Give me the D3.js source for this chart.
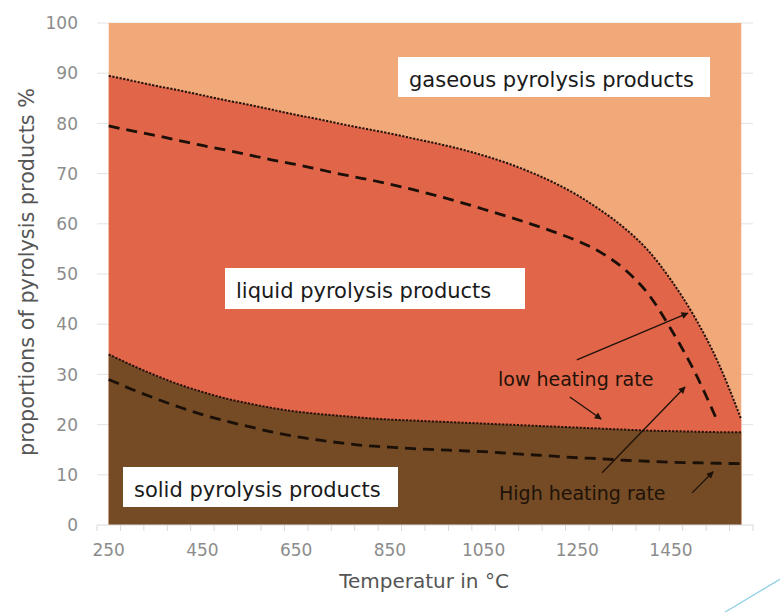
<!DOCTYPE html>
<html>
<head>
<meta charset="utf-8">
<script src="https://cdn.jsdelivr.net/npm/d3@7"></script>
<style>
  body { margin: 0; background: #fff; }
  text { font-family: "DejaVu Sans", sans-serif; }
</style>
</head>
<body>
<div id="chart"></div>
<script>
// temperature categories (°C)
var temps = [250, 300, 350, 400, 450, 500, 550, 600, 650, 700, 750, 800, 850, 900,
             950, 1000, 1050, 1100, 1150, 1200, 1250, 1300, 1350, 1400, 1450, 1500, 1550, 1600];

// low heating rate: upper edge of liquid products (solid + liquid) in %
var liquidTopLow = [89.5, 88.5, 87.5, 86.6, 85.6, 84.6, 83.7, 82.7, 81.7, 80.8, 79.8, 78.9, 78.0, 77.0,
                    76.0, 74.9, 73.6, 72.1, 70.3, 68.2, 65.7, 62.7, 59.2, 54.8, 48.8, 41.5, 32.5, 21.0];
// low heating rate: solid products in %
var solidLow = [34.0, 31.8, 29.8, 28.0, 26.5, 25.2, 24.2, 23.3, 22.6, 22.1, 21.7, 21.3, 21.0, 20.8,
                20.6, 20.4, 20.2, 20.0, 19.8, 19.6, 19.4, 19.2, 19.0, 18.8, 18.7, 18.6, 18.5, 18.5];

// high heating rate (dashed lines)
var liquidTopHigh = [79.5, 78.5, 77.6, 76.6, 75.6, 74.7, 73.7, 72.7, 71.8, 70.8, 69.8, 68.9, 67.9, 66.8,
                     65.6, 64.3, 62.9, 61.5, 60.0, 58.4, 56.6, 54.3, 51.0, 46.2, 39.0, 30.6, 20.5];
var solidHigh = [29.0, 27.0, 25.2, 23.5, 22.0, 20.7, 19.6, 18.5, 17.6, 16.9, 16.3, 15.8, 15.5, 15.2,
                 15.0, 14.8, 14.6, 14.3, 14.0, 13.7, 13.4, 13.2, 12.9, 12.7, 12.5, 12.4, 12.3, 12.2];

var xLabels = [250, 450, 650, 850, 1050, 1250, 1450];
var yTicks = [0, 10, 20, 30, 40, 50, 60, 70, 80, 90, 100];
var xMinorTicks = [225, 275, 325, 375, 425, 475, 525, 575, 625, 675, 725, 775, 825, 875, 925,
                   975, 1025, 1075, 1125, 1175, 1225, 1275, 1325, 1375, 1425, 1475, 1525, 1575, 1625];

var width = 780, height = 612;

var svg = d3.select("#chart")
    .append("svg")
    .attr("width", width)
    .attr("height", height);

var x = d3.scaleLinear().domain([225, 1625]).range([97, 753]);
var y = d3.scaleLinear().domain([0, 100]).range([525, 23]);

// gridlines
svg.append("g")
    .selectAll("line")
    .data(yTicks.slice(1))
    .enter()
    .append("line")
    .attr("x1", 97).attr("x2", 753)
    .attr("y1", function(d) { return y(d); })
    .attr("y2", function(d) { return y(d); })
    .attr("stroke", "#e3e3e3")
    .attr("stroke-width", 1);

var low = temps.map(function(t, i) { return {t: t, top: liquidTopLow[i], solid: solidLow[i]}; });

var gasArea = d3.area()
    .x(function(d) { return x(d.t); })
    .y0(y(0))
    .y1(y(100));

var liquidArea = d3.area()
    .curve(d3.curveMonotoneX)
    .x(function(d) { return x(d.t); })
    .y0(y(0))
    .y1(function(d) { return y(d.top); });

var solidArea = d3.area()
    .curve(d3.curveMonotoneX)
    .x(function(d) { return x(d.t); })
    .y0(y(0))
    .y1(function(d) { return y(d.solid); });

svg.append("path").datum(low).attr("d", gasArea).attr("fill", "#f0a574").attr("fill-opacity", 0.96);
svg.append("path").datum(low).attr("d", liquidArea).attr("fill", "#e06347").attr("fill-opacity", 0.97);
svg.append("path").datum(low).attr("d", solidArea).attr("fill", "#744b25");

// dotted edges of the low heating rate areas
var lineTop = d3.line().curve(d3.curveMonotoneX)
    .x(function(d) { return x(d.t); })
    .y(function(d) { return y(d.top); });
var lineSolid = d3.line().curve(d3.curveMonotoneX)
    .x(function(d) { return x(d.t); })
    .y(function(d) { return y(d.solid); });

svg.append("path").datum(low).attr("d", lineTop)
    .attr("fill", "none").attr("stroke", "#24120a").attr("stroke-width", 2)
    .attr("stroke-dasharray", "2.2,1.5");
svg.append("path").datum(low).attr("d", lineSolid)
    .attr("fill", "none").attr("stroke", "#24120a").attr("stroke-width", 2)
    .attr("stroke-dasharray", "2.2,1.5");

// dashed lines for high heating rate
var lineHigh = d3.line().curve(d3.curveMonotoneX)
    .x(function(d, i) { return x(temps[i]); })
    .y(function(d) { return y(d); });

svg.append("path").datum(liquidTopHigh).attr("d", lineHigh)
    .attr("fill", "none").attr("stroke", "#1a1008").attr("stroke-width", 2.8)
    .attr("stroke-dasharray", "11,7");
svg.append("path").datum(solidHigh).attr("d", lineHigh)
    .attr("fill", "none").attr("stroke", "#1a1008").attr("stroke-width", 2.8)
    .attr("stroke-dasharray", "11,7");

// x axis
svg.append("line")
    .attr("x1", 97).attr("x2", 753)
    .attr("y1", y(0)).attr("y2", y(0))
    .attr("stroke", "#d9d9d9");

svg.append("g")
    .selectAll("line")
    .data(xMinorTicks)
    .enter()
    .append("line")
    .attr("x1", function(d) { return x(d); })
    .attr("x2", function(d) { return x(d); })
    .attr("y1", y(0)).attr("y2", y(0) + 6)
    .attr("stroke", "#d9d9d9");

svg.append("g")
    .selectAll("text")
    .data(xLabels)
    .enter()
    .append("text")
    .attr("x", function(d) { return x(d); })
    .attr("y", 556)
    .attr("text-anchor", "middle")
    .attr("font-size", 17)
    .attr("fill", "#8c8c8c")
    .text(function(d) { return d; });

svg.append("g")
    .selectAll("text")
    .data(yTicks)
    .enter()
    .append("text")
    .attr("x", 78)
    .attr("y", function(d) { return y(d); })
    .attr("dy", "0.36em")
    .attr("text-anchor", "end")
    .attr("font-size", 17)
    .attr("fill", "#8c8c8c")
    .text(function(d) { return d; });

// axis titles
svg.append("text")
    .attr("x", 424).attr("y", 588)
    .attr("text-anchor", "middle")
    .attr("font-size", 20)
    .attr("fill", "#555")
    .text("Temperatur in °C");

svg.append("text")
    .attr("transform", "translate(34,272) rotate(-90)")
    .attr("text-anchor", "middle")
    .attr("font-size", 20.8)
    .attr("fill", "#555")
    .text("proportions of pyrolysis products %");

// labelled boxes
var boxes = [
    {text: "gaseous pyrolysis products", x: 398, y: 57, w: 312, h: 40},
    {text: "liquid pyrolysis products", x: 225, y: 268, w: 300, h: 41},
    {text: "solid pyrolysis products", x: 123, y: 467, w: 275, h: 40}
];

var boxG = svg.selectAll("g.box")
    .data(boxes)
    .enter()
    .append("g")
    .attr("class", "box");

boxG.append("rect")
    .attr("x", function(d) { return d.x; })
    .attr("y", function(d) { return d.y; })
    .attr("width", function(d) { return d.w; })
    .attr("height", function(d) { return d.h; })
    .attr("fill", "#fff");

boxG.append("text")
    .attr("x", function(d) { return d.x + 11; })
    .attr("y", function(d) { return d.y + 30; })
    .attr("font-size", 21)
    .attr("fill", "#1a1a1a")
    .text(function(d) { return d.text; });

// heating rate notes with arrows
svg.append("text")
    .attr("x", 498).attr("y", 386)
    .attr("font-size", 19)
    .attr("fill", "#1e1208")
    .text("low heating rate");

svg.append("text")
    .attr("x", 499).attr("y", 500)
    .attr("font-size", 19)
    .attr("fill", "#1e1208")
    .text("High heating rate");

svg.append("defs").append("marker")
    .attr("id", "head")
    .attr("viewBox", "0 0 10 10")
    .attr("refX", 9).attr("refY", 5)
    .attr("markerWidth", 9).attr("markerHeight", 7)
    .attr("markerUnits", "userSpaceOnUse")
    .attr("orient", "auto")
    .append("path")
    .attr("d", "M0,0 L10,5 L0,10 z")
    .attr("fill", "#1e1208");

var arrows = [
    {t1: 1249, v1: 32.9, t2: 1486, v2: 42.2},
    {t1: 1234, v1: 25.5, t2: 1301, v2: 21.1},
    {t1: 1303, v1: 10.4, t2: 1480, v2: 27.5},
    {t1: 1495, v1: 6.4, t2: 1540, v2: 10.6}
];

svg.append("g")
    .selectAll("line")
    .data(arrows)
    .enter()
    .append("line")
    .attr("x1", function(d) { return x(d.t1); })
    .attr("y1", function(d) { return y(d.v1); })
    .attr("x2", function(d) { return x(d.t2); })
    .attr("y2", function(d) { return y(d.v2); })
    .attr("stroke", "#1e1208")
    .attr("stroke-width", 1.3)
    .attr("marker-end", "url(#head)");

// slide decoration
svg.append("path")
    .attr("d", "M722,614 Q752,596 782,578")
    .attr("fill", "none")
    .attr("stroke", "#8ccfe4")
    .attr("stroke-width", 1.2);
</script>
</body>
</html>
